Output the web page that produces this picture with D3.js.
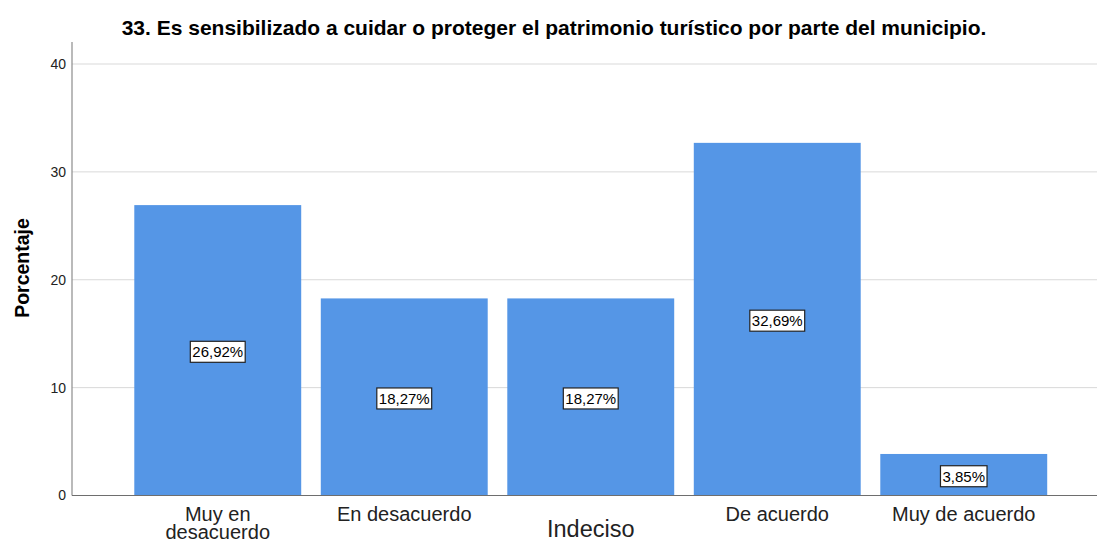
<!DOCTYPE html>
<html>
<head>
<meta charset="utf-8">
<script src="https://cdn.jsdelivr.net/npm/d3@7"></script>
<style>
  html, body { margin: 0; padding: 0; background: #fff; }
  svg { display: block; font-family: "Liberation Sans", Arial, sans-serif; }
</style>
</head>
<body>
<svg id="chart" width="1097" height="543"></svg>
<script>
// Response categories and their percentages
const categories = ["Muy en desacuerdo", "En desacuerdo", "Indeciso", "De acuerdo", "Muy de acuerdo"];
const percentages = [26.92, 18.27, 18.27, 32.69, 3.85];
const yTicks = [0, 10, 20, 30, 40];
// Tick labels as drawn (line breaks where the label wraps)
const tickLabels = [["Muy en", "desacuerdo"], ["En desacuerdo"], ["Indeciso"], ["De acuerdo"], ["Muy de acuerdo"]];
const title = "33. Es sensibilizado a cuidar o proteger el patrimonio turístico por parte del municipio.";
const yTitle = "Porcentaje";

const svg = d3.select("#chart");
const plotLeft = 72, plotRight = 1097, plotTop = 42, plotBottom = 495.5;

const x = d3.scaleBand()
  .domain(categories)
  .range([124.5, 1057])
  .paddingInner(0.105)
  .paddingOuter(0.0525);

const y = d3.scaleLinear().domain([0, 40]).range([plotBottom, 64]);

// Gridlines
svg.append("g")
  .selectAll("line")
  .data(yTicks.filter(d => d > 0))
  .join("line")
  .attr("x1", plotLeft).attr("x2", plotRight)
  .attr("y1", d => y(d)).attr("y2", d => y(d))
  .attr("stroke", "#d9d9d9").attr("stroke-width", 1);

// Bars
svg.append("g")
  .selectAll("rect")
  .data(percentages)
  .join("rect")
  .attr("x", (d, i) => x(categories[i]))
  .attr("width", x.bandwidth())
  .attr("y", d => y(d))
  .attr("height", d => y(0) - y(d))
  .attr("fill", "#5596e6");

// Axis lines
svg.append("line")
  .attr("x1", plotLeft).attr("x2", plotLeft)
  .attr("y1", plotTop).attr("y2", plotBottom)
  .attr("stroke", "#8c8c8c").attr("stroke-width", 1.2);
svg.append("line")
  .attr("x1", plotLeft).attr("x2", plotRight)
  .attr("y1", plotBottom).attr("y2", plotBottom)
  .attr("stroke", "#6e6e6e").attr("stroke-width", 1.2);

// Y tick labels
svg.append("g")
  .selectAll("text")
  .data(yTicks)
  .join("text")
  .attr("x", 66)
  .attr("y", d => y(d))
  .attr("dy", "0.35em")
  .attr("text-anchor", "end")
  .attr("font-size", 14)
  .attr("fill", "#222")
  .text(d => d);

// Value labels in boxes at the middle of each bar
const lbl = svg.append("g")
  .selectAll("g")
  .data(percentages)
  .join("g")
  .attr("transform", (d, i) => `translate(${x(categories[i]) + x.bandwidth() / 2},${(y(d) + y(0)) / 2 + 1.5})`);
lbl.append("text")
  .attr("text-anchor", "middle")
  .attr("dy", "0.36em")
  .attr("font-size", 15)
  .attr("fill", "#000")
  .text(d => d.toFixed(2).replace(".", ",") + "%")
  .each(function () {
    const b = this.getBBox();
    d3.select(this.parentNode).insert("rect", "text")
      .attr("x", b.x - 2).attr("y", -10.5)
      .attr("width", b.width + 4).attr("height", 21)
      .attr("fill", "#fff").attr("stroke", "#222").attr("stroke-width", 1.2);
  });

// X tick labels
const xl = svg.append("g")
  .selectAll("text")
  .data(tickLabels)
  .join("text")
  .attr("x", (d, i) => x(categories[i]) + x.bandwidth() / 2)
  .attr("y", (d, i) => i === 2 ? 537 : 521)
  .attr("text-anchor", "middle")
  .attr("font-size", (d, i) => i === 2 ? 23.5 : 20)
  .attr("fill", "#222");
xl.each(function (lines) {
  const t = d3.select(this);
  lines.forEach((s, k) => {
    t.append("tspan")
      .attr("x", t.attr("x"))
      .attr("dy", k === 0 ? 0 : 18)
      .text(s);
  });
});

// Y axis title
svg.append("text")
  .attr("transform", "translate(29,268) rotate(-90)")
  .attr("text-anchor", "middle")
  .attr("font-size", 19.5)
  .attr("font-weight", "bold")
  .attr("fill", "#000")
  .text(yTitle);

// Chart title
svg.append("text")
  .attr("x", 554)
  .attr("y", 35)
  .attr("text-anchor", "middle")
  .attr("font-size", 21)
  .attr("font-weight", "bold")
  .attr("fill", "#000")
  .text(title);
</script>
</body>
</html>
